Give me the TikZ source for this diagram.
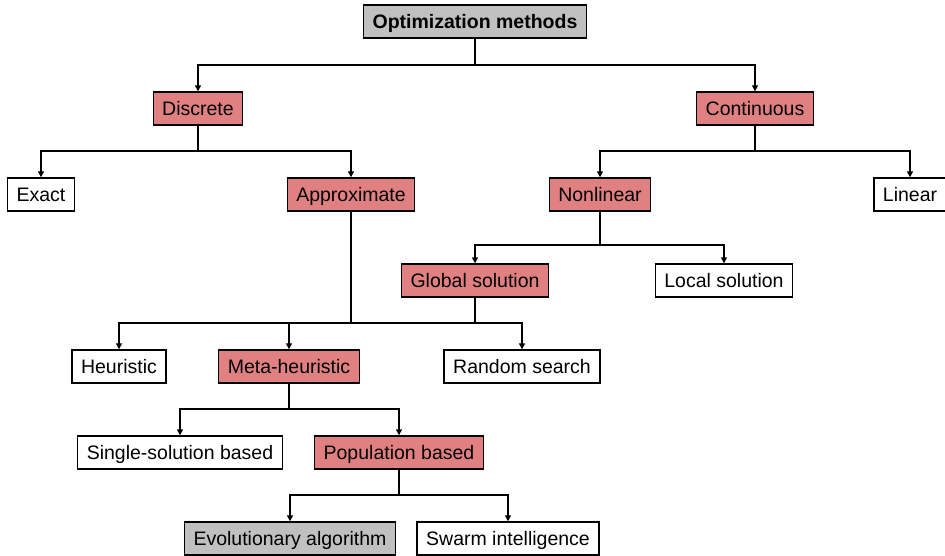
\documentclass[tikz,border=0pt]{standalone}
\usepackage{fontspec}
\setmainfont{Liberation Sans}
\usetikzlibrary{arrows.meta}
\definecolor{redbox}{RGB}{224,128,128}
\definecolor{graybox}{RGB}{192,192,192}
\tikzset{
  box/.style={draw=black, line width=1.4pt, rectangle, minimum height=33pt, inner xsep=9pt, inner ysep=0pt, font=\fontsize{19.5}{23}\selectfont, text height=16pt, text depth=2pt},
  redb/.style={box, fill=redbox},
  grayb/.style={box, fill=graybox},
  whiteb/.style={box, fill=white},
  conn/.style={line width=1.4pt},
  arr/.style={conn, -{Triangle[width=6pt,length=6pt]}}
}
\begin{document}
\begin{tikzpicture}[x=1pt,y=-1pt]
\useasboundingbox (0,0) rectangle (945,556);
\node[grayb, font=\fontsize{19.5}{23}\selectfont\bfseries] (om) at (475,21.5) {Optimization methods};
\node[redb] (disc) at (198,108.5) {Discrete};
\node[redb] (cont) at (755,108.5) {Continuous};
\node[whiteb] (exact) at (41,194.5) {Exact};
\node[redb] (approx) at (351,194.5) {Approximate};
\node[redb] (nonlin) at (600,194.5) {Nonlinear};
\node[whiteb] (lin) at (910,194.5) {Linear};
\node[redb] (glob) at (475,280.5) {Global solution};
\node[whiteb] (loc) at (724,280.5) {Local solution};
\node[whiteb] (heur) at (119,366.5) {Heuristic};
\node[redb] (meta) at (289,366.5) {Meta-heuristic};
\node[whiteb] (rand) at (522,366.5) {Random search};
\node[whiteb] (single) at (180,452.5) {Single-solution based};
\node[redb] (pop) at (399,452.5) {Population based};
\node[grayb] (evo) at (290,538.5) {Evolutionary algorithm};
\node[whiteb] (swarm) at (508,538.5) {Swarm intelligence};

\coordinate (j1) at (475,65);
\coordinate (j2) at (198,151);
\coordinate (j3) at (755,151);
\coordinate (j4) at (600,245);
\coordinate (j5) at (351,323);
\coordinate (j6) at (289,409);
\coordinate (j7) at (399,495);

\draw[conn] (om.south) -- (j1);
\draw[arr] (j1) -| (disc.north);
\draw[arr] (j1) -| (cont.north);

\draw[conn] (disc.south) -- (j2);
\draw[arr] (j2) -| (exact.north);
\draw[arr] (j2) -| (approx.north);

\draw[conn] (cont.south) -- (j3);
\draw[arr] (j3) -| (nonlin.north);
\draw[arr] (j3) -| (lin.north);

\draw[conn] (nonlin.south) -- (j4);
\draw[arr] (j4) -| (glob.north);
\draw[arr] (j4) -| (loc.north);

\draw[line width=2pt] (approx.south) -- (j5);
\draw[conn] (glob.south) |- (j5);
\draw[arr] (j5) -| (heur.north);
\draw[arr] (j5) -| (meta.north);
\draw[arr] (j5) -| (rand.north);

\draw[conn] (meta.south) -- (j6);
\draw[arr] (j6) -| (single.north);
\draw[arr] (j6) -| (pop.north);

\draw[conn] (pop.south) -- (j7);
\draw[arr] (j7) -| (evo.north);
\draw[arr] (j7) -| (swarm.north);
\end{tikzpicture}
\end{document}
